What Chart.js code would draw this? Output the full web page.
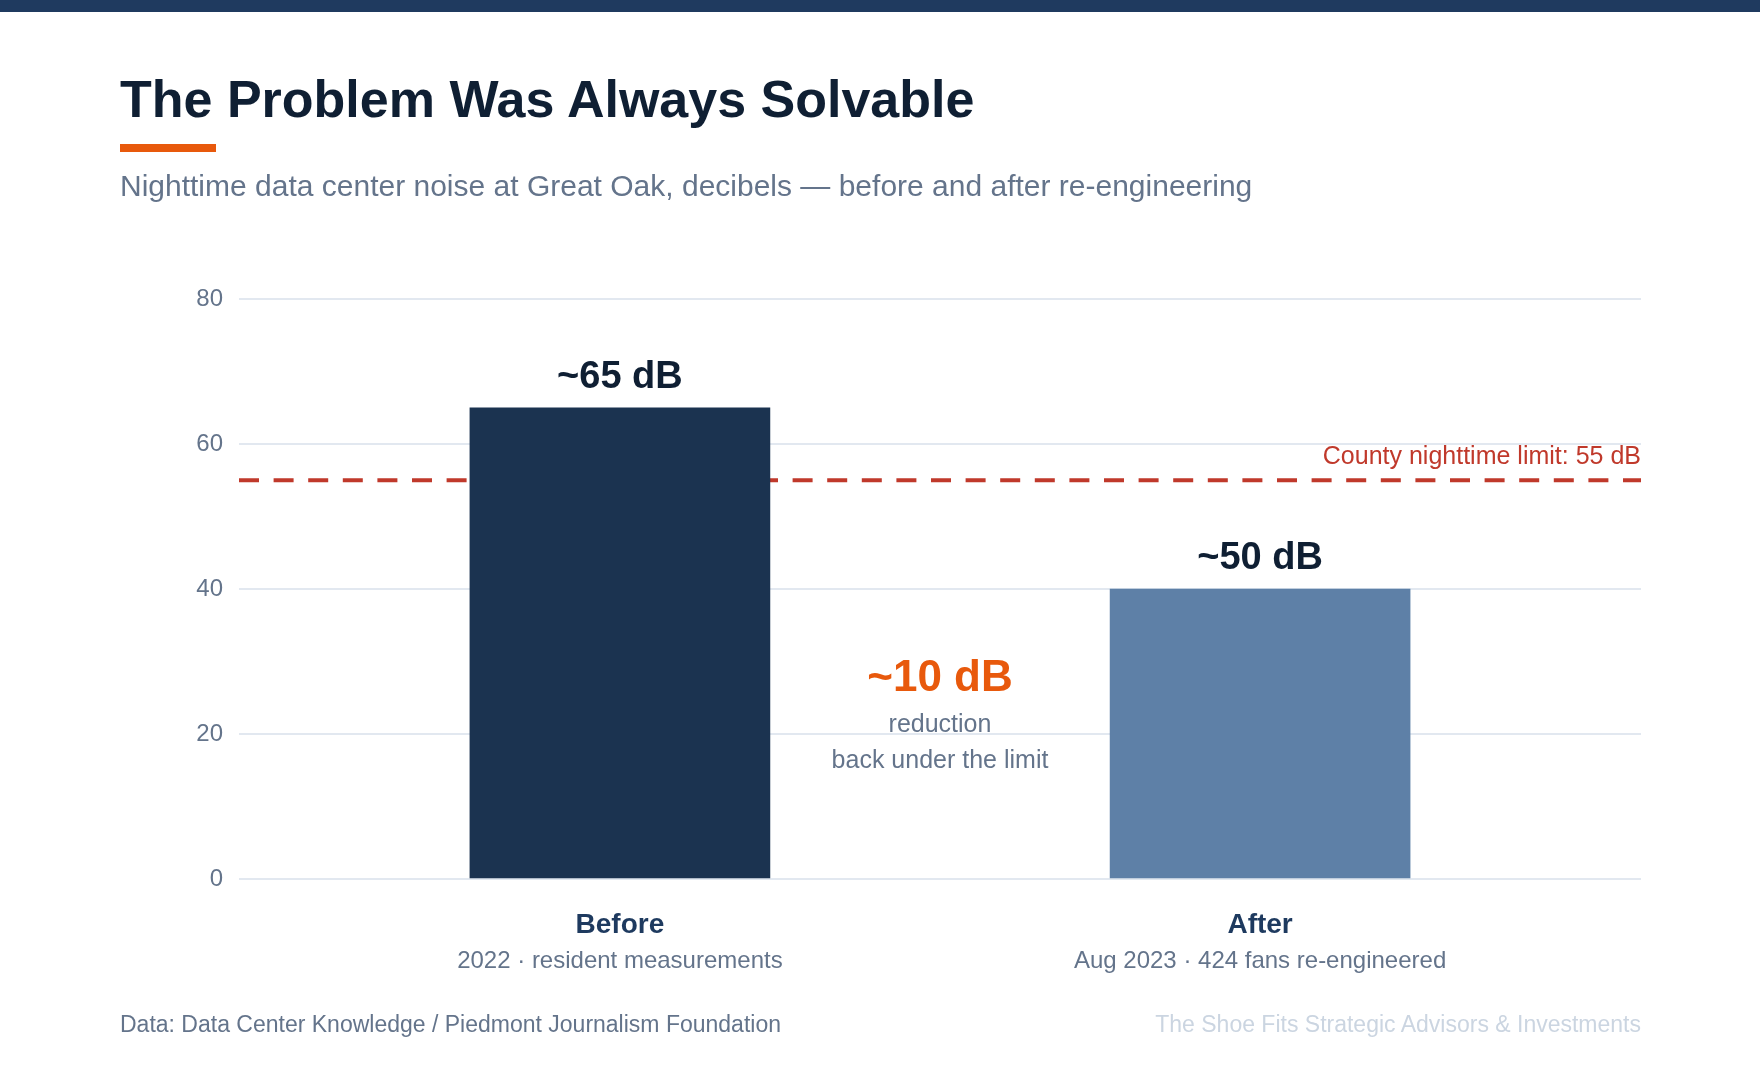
<!DOCTYPE html>
<html>
<head>
<meta charset="utf-8">
<script src="https://cdn.jsdelivr.net/npm/chart.js@4.4.0/dist/chart.umd.min.js"></script>
<style>
  html, body { margin: 0; padding: 0; background: #ffffff; }
  body { width: 1760px; height: 1080px; position: relative; overflow: hidden; font-family: "Liberation Sans", Arial, Helvetica, sans-serif; }
  .topbar { position: absolute; left: 0; top: 0; width: 1760px; height: 12px; background: #1f3a5f; }
  .title { position: absolute; left: 120px; top: 73px; font-size: 52px; line-height: 52px; font-weight: bold; color: #0f1f33; white-space: nowrap; }
  .accent { position: absolute; left: 120px; top: 144px; width: 96px; height: 8px; background: #e8590c; }
  .subtitle { position: absolute; left: 120px; top: 171px; font-size: 30px; line-height: 30px; color: #64748b; white-space: nowrap; }
  .foot { position: absolute; top: 1013px; font-size: 23px; line-height: 23px; white-space: nowrap; }
  .foot.left { left: 120px; color: #64748b; }
  .foot.right { right: 119px; color: #cbd5e1; }
  .wrap { position: absolute; left: 0; top: 0; width: 1760px; height: 1080px; }
</style>
</head>
<body>
<div class="wrap"><canvas id="noise"></canvas></div>
<div class="topbar"></div>
<div class="title">The Problem Was Always Solvable</div>
<div class="accent"></div>
<div class="subtitle">Nighttime data center noise at Great Oak, decibels — before and after re-engineering</div>
<div class="foot left">Data: Data Center Knowledge / Piedmont Journalism Foundation</div>
<div class="foot right">The Shoe Fits Strategic Advisors &amp; Investments</div>
<script>
// data
const categories = ["Before", "After"];
const subLabels = ["2022 · resident measurements", "Aug 2023 · 424 fans re-engineered"];
const noiseDb = [65, 40];
const valueLabels = ["~65 dB", "~50 dB"];
const barColors = ["#1b3350", "#5e80a7"];
const limitDb = 55;
const limitLabel = "County nighttime limit: 55 dB";
const reductionLines = ["~10 dB", "reduction", "back under the limit"];

const FONT = '"Liberation Sans", Arial, Helvetica, sans-serif';

// dashed limit line, drawn under the bars
const limitLine = {
  id: "limitLine",
  beforeDatasetsDraw(chart) {
    const ctx = chart.ctx, area = chart.chartArea;
    const y = chart.scales.y.getPixelForValue(limitDb);
    ctx.save();
    ctx.strokeStyle = "#c0392b";
    ctx.lineWidth = 4;
    ctx.setLineDash([20, 14.6]);
    ctx.beginPath();
    ctx.moveTo(area.left, y);
    ctx.lineTo(area.right, y);
    ctx.stroke();
    ctx.setLineDash([]);
    ctx.fillStyle = "#c0392b";
    ctx.font = "25px " + FONT;
    ctx.textAlign = "right";
    ctx.textBaseline = "alphabetic";
    ctx.fillText(limitLabel, area.right, y - 16);
    ctx.restore();
  }
};

// value labels, category labels and the reduction note
const labelsPlugin = {
  id: "labelsPlugin",
  afterDatasetsDraw(chart) {
    const ctx = chart.ctx;
    const xs = chart.scales.x, ys = chart.scales.y;
    ctx.save();
    ctx.textAlign = "center";
    ctx.textBaseline = "alphabetic";
    categories.forEach((cat, i) => {
      const x = xs.getPixelForValue(i);
      ctx.fillStyle = "#0f1f33";
      ctx.font = "bold 38px " + FONT;
      ctx.fillText(valueLabels[i], x, ys.getPixelForValue(noiseDb[i]) - 20);
      ctx.fillStyle = "#1e3a5f";
      ctx.font = "bold 28px " + FONT;
      ctx.fillText(cat, x, ys.bottom + 54);
      ctx.fillStyle = "#64748b";
      ctx.font = "24px " + FONT;
      ctx.fillText(subLabels[i], x, ys.bottom + 89);
    });
    const mid = (xs.getPixelForValue(0) + xs.getPixelForValue(1)) / 2;
    const y0 = ys.getPixelForValue(26);
    ctx.fillStyle = "#e8590c";
    ctx.font = "bold 44px " + FONT;
    ctx.fillText(reductionLines[0], mid, y0);
    ctx.fillStyle = "#64748b";
    ctx.font = "25px " + FONT;
    ctx.fillText(reductionLines[1], mid, y0 + 41);
    ctx.fillText(reductionLines[2], mid, y0 + 77);
    ctx.restore();
  }
};

const data = {
  datasets: [
    {
      label: "Noise (dB)",
      data: noiseDb.map((v, i) => ({ x: i, y: v })),
      backgroundColor: barColors,
      borderWidth: 0,
      barThickness: 300
    }
  ]
};

const config = {
  type: "bar",
  data: data,
  options: {
    responsive: true,
    maintainAspectRatio: false,
    animation: false,
    layout: {
      padding: { left: 120, right: 119, top: 299, bottom: 201 }
    },
    scales: {
      x: {
        type: "linear",
        min: -0.595,
        max: 1.595,
        offset: false,
        display: false
      },
      y: {
        min: 0,
        max: 80,
        ticks: {
          stepSize: 20,
          padding: 16,
          color: "#64748b",
          font: { family: FONT, size: 24 }
        },
        grid: { color: "#e2e8f0", lineWidth: 2, drawTicks: false },
        border: { display: false },
        afterFit(scale) { scale.width = 119; }
      }
    },
    plugins: {
      legend: { display: false },
      tooltip: { enabled: false }
    }
  },
  plugins: [limitLine, labelsPlugin]
};

const noiseChart = new Chart(document.getElementById("noise").getContext("2d"), config);
</script>
</body>
</html>
